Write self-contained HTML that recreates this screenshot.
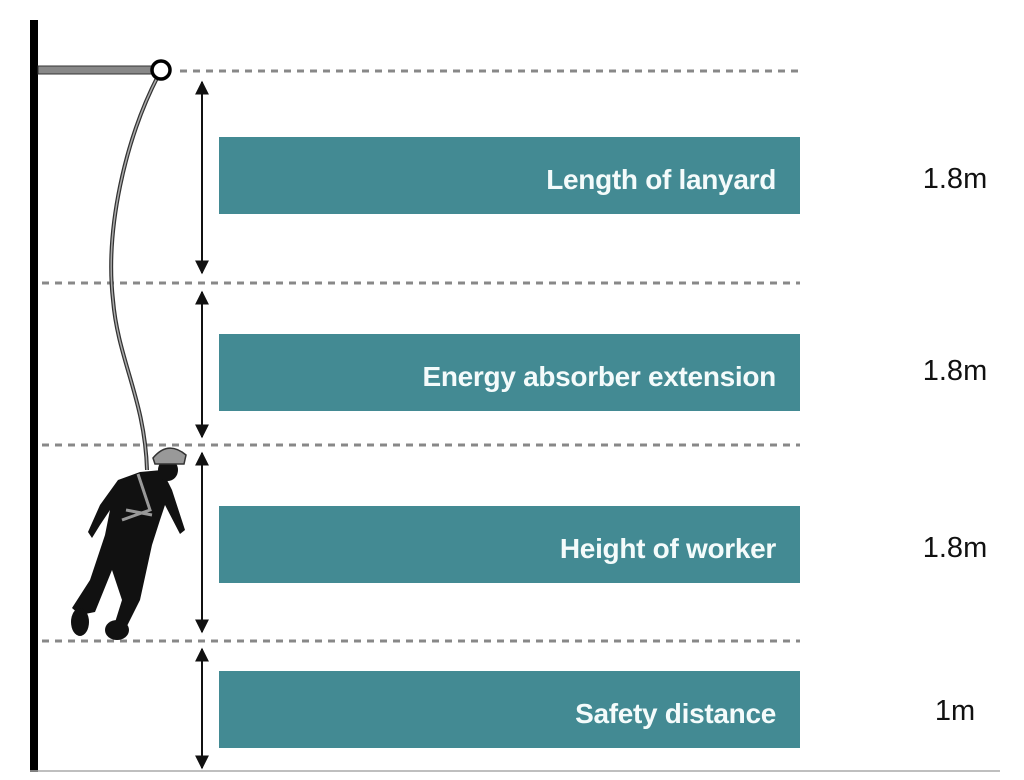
<!DOCTYPE html>
<html><head><meta charset="utf-8"><style>
html,body{margin:0;padding:0;background:#fff;}
body{width:1024px;height:780px;position:relative;overflow:hidden;font-family:"Liberation Sans",sans-serif;}
.box{position:absolute;left:219px;width:581px;height:77px;background:#438a93;color:#f4fbfb;font-weight:bold;font-size:28px;text-align:right;box-sizing:border-box;padding-right:24px;padding-top:4px;line-height:77px;letter-spacing:-0.3px;}
.val{position:absolute;left:900px;width:110px;text-align:center;font-size:29px;color:#111;}
</style></head><body>
<svg width="1024" height="780" style="position:absolute;left:0;top:0">
<defs><marker id="a" viewBox="0 0 10 10" refX="9" refY="5" markerWidth="14" markerHeight="14" markerUnits="userSpaceOnUse" orient="auto-start-reverse"><path d="M0,0 L10,5 L0,10 z" fill="#111"/></marker></defs>
<rect x="30" y="20" width="8" height="752" fill="#000"/>
<line x1="30" y1="771" x2="1000" y2="771" stroke="#aaa" stroke-width="1.5"/>
<rect x="38" y="66" width="114" height="8" fill="#888" stroke="#333" stroke-width="1"/>
<g stroke="#888" stroke-width="3" stroke-dasharray="7,6">
<line x1="180" y1="71" x2="800" y2="71"/>
<line x1="42" y1="283" x2="800" y2="283"/>
<line x1="42" y1="445" x2="800" y2="445"/>
<line x1="42" y1="641" x2="800" y2="641"/>
</g>
<path d="M158,76 C125,140 105,230 113,300 C118,360 145,400 147,470" fill="none" stroke="#333" stroke-width="4"/>
<path d="M158,76 C125,140 105,230 113,300 C118,360 145,400 147,470" fill="none" stroke="#aaa" stroke-width="1.5"/>
<circle cx="161" cy="70" r="9" fill="#fff" stroke="#000" stroke-width="3.5"/>
<g stroke="#111" stroke-width="2" fill="none" marker-start="url(#a)" marker-end="url(#a)">
<line x1="202" y1="82" x2="202" y2="273"/>
<line x1="202" y1="292" x2="202" y2="437"/>
<line x1="202" y1="453" x2="202" y2="632"/>
<line x1="202" y1="649" x2="202" y2="768"/>
</g>
<g fill="#111">
<path d="M140,472 L162,470 L172,490 L185,530 L180,534 L165,505 L160,520 L152,545 L140,600 L125,630 L112,632 L122,600 L112,570 L95,612 L80,615 L72,608 L90,580 L105,535 L110,510 L100,525 L92,538 L88,532 L100,505 L118,480 Z"/>
<ellipse cx="80" cy="622" rx="9" ry="14"/>
<ellipse cx="117" cy="630" rx="12" ry="10"/>
<ellipse cx="168" cy="470" rx="10" ry="11"/>
<path d="M153,458 Q168,440 186,455 L184,464 L155,464 Z" fill="#999" stroke="#333" stroke-width="1.5"/>
</g>
<path d="M138,474 L150,510 L122,520 M126,510 L152,515" stroke="#999" stroke-width="3" fill="none"/>
</svg>
<div class="box" style="top:137px">Length of lanyard</div>
<div class="box" style="top:334px">Energy absorber extension</div>
<div class="box" style="top:506px">Height of worker</div>
<div class="box" style="top:671px">Safety distance</div>
<div class="val" style="top:163px">1.8m</div>
<div class="val" style="top:355px">1.8m</div>
<div class="val" style="top:532px">1.8m</div>
<div class="val" style="top:695px">1m</div>
</body></html>
